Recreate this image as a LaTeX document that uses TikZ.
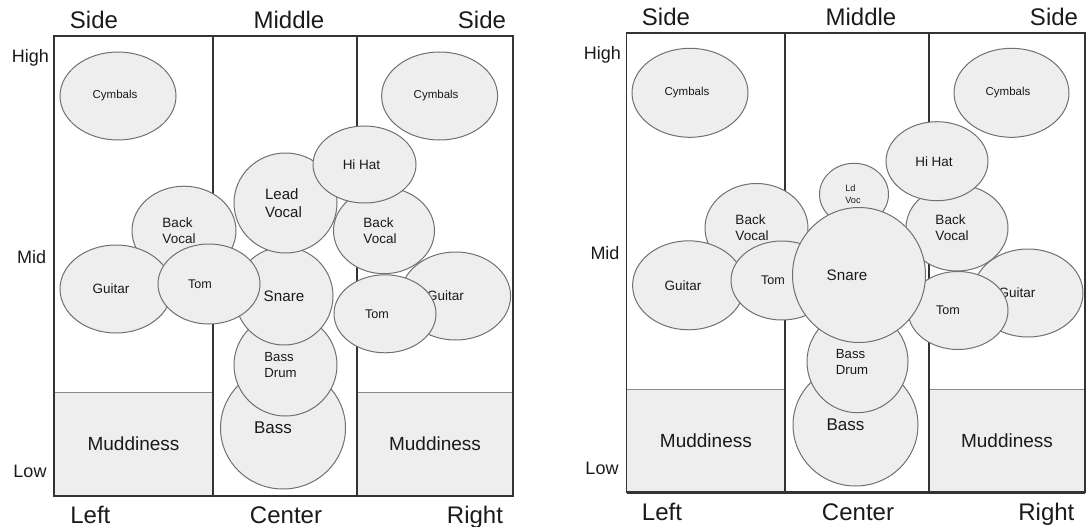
\documentclass[tikz,border=0pt]{standalone}
\usepackage{fontspec}
\setmainfont{Liberation Sans}
\usetikzlibrary{shapes.geometric}
\definecolor{padgray}{HTML}{EEEEEE}
\definecolor{edgegray}{HTML}{707070}
\definecolor{framegray}{HTML}{333333}
\definecolor{mudedge}{HTML}{8A8A8A}
\definecolor{inkdark}{HTML}{1A1A1A}

\begin{document}
\begin{tikzpicture}[
    x=1pt, y=-1pt,
    head/.style={font=\fontsize{24}{28}\selectfont, text=inkdark, text height=17pt, text depth=0pt, inner sep=0pt},
    level/.style={font=\fontsize{18}{21}\selectfont, text=inkdark, text height=13pt, text depth=0pt, inner sep=0pt},
    frame/.style={draw=framegray, line width=1.5pt},
    mud/.style={rectangle, draw=mudedge, fill=padgray, line width=1pt, font=\fontsize{19}{22}\selectfont, text=inkdark, inner sep=0pt},
    sound/.style={ellipse, draw=edgegray, fill=padgray, line width=1pt, inner sep=0pt},
    tag/.style={align=left, text=inkdark, inner sep=0pt},
    tiny/.style={tag, font=\fontsize{11.5}{14}\selectfont},
    small/.style={tag, font=\fontsize{13.5}{16}\selectfont},
    big/.style={tag, font=\fontsize{15.2}{18}\selectfont}
]
\useasboundingbox (0,0) rectangle (1087,527);

% left chart
\node[mud, minimum width=159, minimum height=104] (mudA) at (133.5,444) {Muddiness};
\node[mud, minimum width=156, minimum height=104] (mudB) at (435,444) {Muddiness};
\draw[frame] (54,36) rectangle (513,496);
\draw[frame] (213,36) -- (213,496);
\draw[frame] (357,36) -- (357,496);
\draw[frame, line width=2.5pt] (54,496) -- (513,496);

\node[head] (sideA) at (94,20) {Side};
\node[head] (middleA) at (289,20) {Middle};
\node[head] (sideB) at (482,20) {Side};
\node[head] (leftA) at (90.4,515) {Left};
\node[head] (centerA) at (286,515) {Center};
\node[head] (rightA) at (475,515) {Right};
\node[level] (highA) at (30.5,56) {High};
\node[level] (midA) at (31.7,257) {Mid};
\node[level] (lowA) at (30,471) {Low};

\node[sound, minimum width=116, minimum height=88, label={[tiny, xshift=-3]center:Cymbals}] (cymA) at (118,96) {};
\node[sound, minimum width=116, minimum height=88, label={[tiny, xshift=-3.5]center:Cymbals}] (cymB) at (439.6,96) {};
\node[sound, minimum width=104, minimum height=89, label={[small, xshift=-5]center:Back\\Vocal}] (backA) at (184,230.7) {};
\node[sound, minimum width=112, minimum height=88, label={[small, xshift=-5]center:Guitar}] (gtrA) at (116,289) {};
\node[sound, minimum width=125, minimum height=122, label={[tag, font=\fontsize{17}{20}\selectfont, xshift=-10]center:Bass}] (bassA) at (283,428) {};
\node[sound, minimum width=103, minimum height=102, label={[tag, font=\fontsize{13.2}{16}\selectfont, xshift=-5]center:Bass\\Drum}] (kickA) at (285.5,365) {};
\node[sound, minimum width=98, minimum height=98, label={[big]center:Snare}] (snareA) at (284,296) {};
\node[sound, minimum width=102, minimum height=80, label={[tag, font=\fontsize{12.6}{15}\selectfont, xshift=-9]center:Tom}] (tomA) at (209,284) {};
\node[sound, minimum width=103, minimum height=100, label={[tag, font=\fontsize{15}{18}\selectfont, xshift=-2]center:Lead\\Vocal}] (leadA) at (285.5,203) {};
\node[sound, minimum width=101, minimum height=86, label={[small, xshift=-4]center:Back\\Vocal}] (backB) at (384,230.7) {};
\node[sound, minimum width=110, minimum height=88, label={[small, xshift=-10]center:Guitar}] (gtrB) at (455.6,296) {};
\node[sound, minimum width=102, minimum height=78, label={[tag, font=\fontsize{12.6}{15}\selectfont, xshift=-8]center:Tom}] (tomB) at (385,313.8) {};
\node[sound, minimum width=103, minimum height=77, label={[small, xshift=-3]center:Hi Hat}] (hatA) at (364.5,164.5) {};

% right chart
\node[mud, minimum width=158.6, minimum height=103.4] (mudC) at (705.9,441) {Muddiness};
\node[mud, minimum width=156, minimum height=103.4] (mudD) at (1007,441) {Muddiness};
\draw[frame] (626.6,33) rectangle (1085,492.7);
\draw[frame] (785.2,33) -- (785.2,492.7);
\draw[frame] (929,33) -- (929,492.7);
\draw[frame, line width=2.5pt] (626.6,492.7) -- (1085,492.7);

\node[head] (sideC) at (666,16.7) {Side};
\node[head] (middleC) at (861,16.7) {Middle};
\node[head] (sideD) at (1054,16.7) {Side};
\node[head] (leftC) at (662,511.7) {Left};
\node[head] (centerC) at (858,511.7) {Center};
\node[head] (rightC) at (1046.4,511.7) {Right};
\node[level] (highC) at (602.5,53.3) {High};
\node[level] (midC) at (605,253.3) {Mid};
\node[level] (lowC) at (602,468.3) {Low};

\node[sound, minimum width=116, minimum height=89, label={[tiny, xshift=-3]center:Cymbals}] (cymC) at (690,92.8) {};
\node[sound, minimum width=115, minimum height=89, label={[tiny, xshift=-3.5]center:Cymbals}] (cymD) at (1011.5,92.8) {};
\node[sound, minimum width=103, minimum height=89, label={[small, xshift=-4.5]center:Back\\Vocal}] (backC) at (756.5,228) {};
\node[sound, minimum width=112, minimum height=89, label={[small, xshift=-5.5]center:Guitar}] (gtrC) at (688.6,285.3) {};
\node[sound, minimum width=102, minimum height=79, label={[tag, font=\fontsize{12.6}{15}\selectfont, xshift=-9]center:Tom}] (tomC) at (782,280.5) {};
\node[sound, minimum width=69, minimum height=62, label={[tag, font=\fontsize{9.2}{11.3}\selectfont, xshift=-1]center:Ld\\Voc}] (leadC) at (854,194.3) {};
\node[sound, minimum width=125, minimum height=122, label={[tag, font=\fontsize{17}{20}\selectfont, xshift=-10]center:Bass}] (bassC) at (855.5,425) {};
\node[sound, minimum width=101, minimum height=102, label={[tag, font=\fontsize{13.2}{16}\selectfont, xshift=-5.5]center:Bass\\Drum}] (kickC) at (857.5,361.7) {};
\node[sound, minimum width=102, minimum height=86, label={[small, xshift=-5]center:Back\\Vocal}] (backD) at (957,228) {};
\node[sound, minimum width=110, minimum height=88, label={[small, xshift=-11]center:Guitar}] (gtrD) at (1028,293) {};
\node[sound, minimum width=100, minimum height=78, label={[tag, font=\fontsize{12.6}{15}\selectfont, xshift=-10]center:Tom}] (tomD) at (958,310.5) {};
\node[sound, minimum width=133, minimum height=135, label={[big, xshift=-12]center:Snare}] (snareC) at (859,275) {};
\node[sound, minimum width=102, minimum height=79, label={[small, xshift=-3]center:Hi Hat}] (hatC) at (937,161.2) {};

\end{tikzpicture}
\end{document}
